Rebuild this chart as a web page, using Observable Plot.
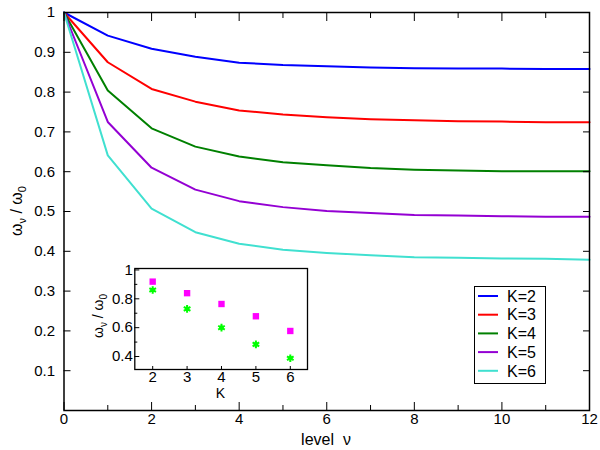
<!DOCTYPE html>
<html><head><meta charset="utf-8">
<script src="https://cdn.jsdelivr.net/npm/d3@7"></script>
<script src="https://cdn.jsdelivr.net/npm/@observablehq/plot@0.6"></script>
<style>
body{margin:0;background:#fff;}
#wrap{position:relative;width:600px;height:450px;font-family:"Liberation Sans",Arial,sans-serif;}
#wrap > *{position:absolute;}
</style></head><body><div id="wrap"></div>
<script>
// ---- data ----
const levels = [0,1,2,3,4,5,6,7,8,9,10,11,12];
const K2 = [1,0.942,0.909,0.889,0.874,0.868,0.865,0.862,0.860,0.859,0.859,0.858,0.858];
const K3 = [1,0.875,0.808,0.776,0.754,0.744,0.737,0.732,0.729,0.727,0.726,0.724,0.724];
const K4 = [1,0.804,0.709,0.663,0.638,0.624,0.616,0.609,0.605,0.603,0.601,0.601,0.601];
const K5 = [1,0.725,0.610,0.555,0.526,0.511,0.501,0.496,0.491,0.490,0.488,0.487,0.487];
const K6 = [1,0.641,0.507,0.448,0.419,0.404,0.396,0.390,0.385,0.384,0.382,0.381,0.379];
const keys = ["K=2","K=3","K=4","K=5","K=6"];
const colors = ["#0000ff","#ff0000","#008000","#9400d3","#40e0d0"];
const insetK = [2,3,4,5,6];
const insetSquares = [0.919,0.839,0.764,0.679,0.577];
const insetStars = [0.861,0.730,0.600,0.484,0.388];
const xMajor = [0,2,4,6,8,10,12];
const xMinor = [1,3,5,7,9,11];
const yMajor = [0.1,0.2,0.3,0.4,0.5,0.6,0.7,0.8,0.9,1];
const yAll = [0,0.1,0.2,0.3,0.4,0.5,0.6,0.7,0.8,0.9,1];
const insetYMajor = [0.4,0.6,0.8,1];
const insetYMinor = [0.5,0.7,0.9];

const series = [K2,K3,K4,K5,K6];
const rows = series.flatMap((s,i)=>levels.map((x,j)=>({x, y:s[j], k:keys[i]})));
const font = '"Liberation Sans", Arial, sans-serif';
const blank = () => "";

const wrap = document.getElementById("wrap");

const main = Plot.plot({
  width:600, height:450,
  marginLeft:63.5, marginRight:11, marginTop:12, marginBottom:40,
  style:{fontFamily:font, fontSize:"15px", background:"white", color:"black", overflow:"visible"},
  x:{domain:[0,12], label:null},
  y:{domain:[0,1], label:null},
  color:{domain:keys, range:colors},
  marks:[
    Plot.line(rows,{x:"x", y:"y", stroke:"k", strokeWidth:2}),
    Plot.axisX(xMajor,{anchor:"bottom", tickSize:-8, tickPadding:11, label:null, fontSize:15, tickFormat:d=>String(d)}),
    Plot.axisX(xMinor,{anchor:"bottom", tickSize:-5, tickFormat:blank, label:null}),
    Plot.axisX(xMajor,{anchor:"top", tickSize:-8, tickFormat:blank, label:null}),
    Plot.axisX(xMinor,{anchor:"top", tickSize:-5, tickFormat:blank, label:null}),
    Plot.axisY(yMajor,{anchor:"left", tickSize:-7, tickPadding:16, label:null, fontSize:15, tickFormat:d=>String(d)}),
    Plot.axisY(yAll,{anchor:"right", tickSize:-7, tickFormat:blank, label:null}),
    Plot.frame({stroke:"black", strokeWidth:1.5})
  ]
});
main.style.left="0px"; main.style.top="0px";
wrap.appendChild(main);

// axis titles
const svg = d3.select(main);
svg.append("text").attr("x",326).attr("y",445).attr("text-anchor","middle")
  .attr("font-family",font).attr("font-size",16).attr("fill","black").text("level  ν");
const yl = svg.append("text").attr("transform","translate(22,211) rotate(-90)")
  .attr("text-anchor","middle").attr("font-family",font).attr("font-size",16).attr("fill","black");
yl.append("tspan").text("ω");
yl.append("tspan").attr("dy",4).attr("font-size",11).text("ν");
yl.append("tspan").attr("dy",-4).text(" / ω");
yl.append("tspan").attr("dy",4).attr("font-size",11).text("0");

// legend
const leg = d3.select(wrap).append("svg").attr("width",72).attr("height",98)
  .style("left","474px").style("top","286px");
leg.append("rect").attr("x",0.5).attr("y",0.5).attr("width",71).attr("height",97)
  .attr("fill","white").attr("stroke","black").attr("stroke-width",1);
keys.forEach((k,i)=>{
  const cy = 10 + i*18.7;
  leg.append("line").attr("x1",4).attr("x2",24).attr("y1",cy).attr("y2",cy)
    .attr("stroke",colors[i]).attr("stroke-width",2);
  leg.append("text").attr("x",33).attr("y",cy).attr("dy","0.36em")
    .attr("font-family",font).attr("font-size",16).attr("fill","black").text(k);
});

// inset
const insetRows = insetK.map((k,i)=>({k, sq:insetSquares[i], st:insetStars[i]}));
const inset = Plot.plot({
  width:235, height:145,
  marginLeft:54.3, marginRight:8, marginTop:13, marginBottom:31,
  style:{fontFamily:font, fontSize:"15px", background:"white", color:"black", overflow:"visible"},
  x:{domain:[1.48,6.5], label:null},
  y:{domain:[0.31,1.01], label:null},
  marks:[
    Plot.dot(insetRows,{x:"k", y:"sq", symbol:"square", r:3.6, fill:"#ff00ff"}),
    Plot.dot(insetRows,{x:"k", y:"st", r:2.3, fill:"#00ff00"}),
    Plot.dot(insetRows,{x:"k", y:"st", symbol:"asterisk", r:3.6, stroke:"#00ff00", strokeWidth:2}),
    Plot.axisX(insetK,{anchor:"bottom", tickSize:-3, tickPadding:5, label:null, fontSize:15, tickFormat:d=>String(d)}),
    Plot.axisY(insetYMajor,{anchor:"left", tickSize:-5, tickPadding:7, label:null, fontSize:15, tickFormat:d=>String(d)}),
    Plot.axisY(insetYMinor,{anchor:"left", tickSize:-3, tickFormat:blank, label:null}),
    Plot.frame({stroke:"black", strokeWidth:1.3})
  ]
});
inset.style.left="80px"; inset.style.top="255px";
wrap.appendChild(inset);
const is = d3.select(inset);
is.append("text").attr("x",140.5).attr("y",143).attr("text-anchor","middle")
  .attr("font-family",font).attr("font-size",14).attr("fill","black").text("K");
const iy = is.append("text").attr("transform","translate(23,61) rotate(-90)")
  .attr("text-anchor","middle").attr("font-family",font).attr("font-size",14).attr("fill","black");
iy.append("tspan").text("ω");
iy.append("tspan").attr("dy",3.5).attr("font-size",10).text("ν");
iy.append("tspan").attr("dy",-3.5).text(" / ω");
iy.append("tspan").attr("dy",3.5).attr("font-size",10).text("0");
</script>
</body></html>
